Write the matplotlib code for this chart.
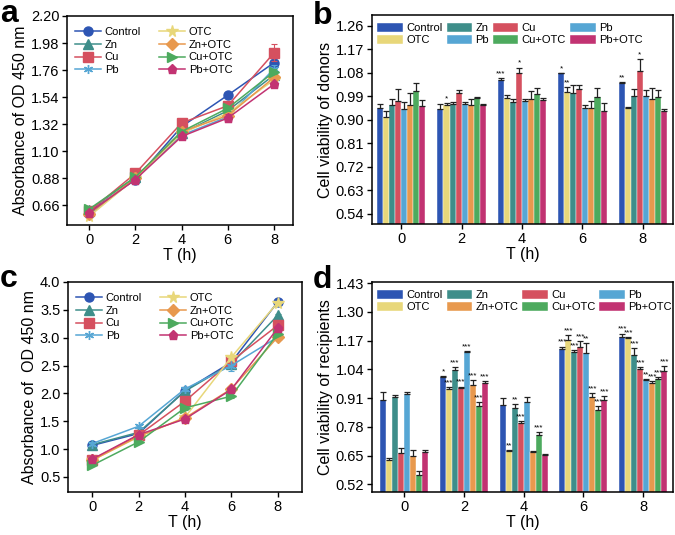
import numpy as np
import matplotlib
matplotlib.use("Agg")
import matplotlib.pyplot as plt
from matplotlib.patches import Patch

plt.rcParams['font.family'] = ['Liberation Sans', 'DejaVu Sans']
plt.rcParams['axes.linewidth'] = 1.1
plt.rcParams['xtick.major.width'] = 1.0
plt.rcParams['ytick.major.width'] = 1.0
plt.rcParams['xtick.major.size'] = 3.5
plt.rcParams['ytick.major.size'] = 3.5

hours = [0, 2, 4, 6, 8]
groups = ['Control', 'OTC', 'Zn', 'Cu', 'Pb', 'Zn+OTC', 'Cu+OTC', 'Pb+OTC']
colors = {
    'Control': '#2D55B3', 'OTC': '#E8D77A', 'Zn': '#3E8E8A', 'Cu': '#D5505F',
    'Pb': '#56A6D4', 'Zn+OTC': '#E8994E', 'Cu+OTC': '#4DAA5E', 'Pb+OTC': '#C23372',
}
markers = {
    'Control': 'o', 'Zn': '^', 'Cu': 's', 'Pb': (6, 2, 0),
    'OTC': '*', 'Zn+OTC': 'D', 'Cu+OTC': '>', 'Pb+OTC': 'p',
}
line_order = ['Control', 'Zn', 'Cu', 'Pb', 'OTC', 'Zn+OTC', 'Cu+OTC', 'Pb+OTC']

# panel a: absorbance of donors (OD 450)
a_mean = {
    'Control': [0.606, 0.87, 1.30, 1.556, 1.82],
    'Zn':      [0.62, 0.89, 1.245, 1.43, 1.72],
    'Cu':      [0.61, 0.92, 1.33, 1.47, 1.90],
    'Pb':      [0.58, 0.88, 1.23, 1.38, 1.77],
    'OTC':     [0.57, 0.88, 1.245, 1.41, 1.68],
    'Zn+OTC':  [0.59, 0.885, 1.26, 1.39, 1.70],
    'Cu+OTC':  [0.63, 0.89, 1.26, 1.45, 1.745],
    'Pb+OTC':  [0.60, 0.87, 1.22, 1.37, 1.645],
}
a_err = {
    'Control': [0.01, 0.01, 0.02, 0.01, 0.02],
    'Zn':      [0.01, 0.01, 0.01, 0.02, 0.02],
    'Cu':      [0.01, 0.01, 0.01, 0.02, 0.07],
    'Pb':      [0.01, 0.01, 0.01, 0.02, 0.03],
    'OTC':     [0.01, 0.01, 0.01, 0.02, 0.02],
    'Zn+OTC':  [0.01, 0.01, 0.01, 0.02, 0.02],
    'Cu+OTC':  [0.01, 0.01, 0.01, 0.02, 0.02],
    'Pb+OTC':  [0.01, 0.01, 0.01, 0.03, 0.02],
}

# panel c: absorbance of recipients (OD 450)
c_mean = {
    'Control': [1.066, 1.28, 2.05, 2.56, 3.64],
    'Zn':      [1.08, 1.30, 2.04, 2.53, 3.40],
    'Cu':      [0.81, 1.25, 1.86, 2.58, 3.22],
    'Pb':      [1.10, 1.41, 2.08, 2.50, 3.01],
    'OTC':     [0.80, 1.22, 1.57, 2.65, 3.63],
    'Zn+OTC':  [0.80, 1.23, 1.56, 2.08, 3.01],
    'Cu+OTC':  [0.71, 1.13, 1.74, 1.95, 3.07],
    'Pb+OTC':  [0.82, 1.26, 1.54, 2.07, 3.17],
}
c_err = {
    'Control': [0.02, 0.02, 0.03, 0.03, 0.03],
    'Zn':      [0.02, 0.02, 0.03, 0.03, 0.03],
    'Cu':      [0.02, 0.02, 0.03, 0.03, 0.03],
    'Pb':      [0.02, 0.03, 0.03, 0.10, 0.03],
    'OTC':     [0.02, 0.02, 0.03, 0.03, 0.03],
    'Zn+OTC':  [0.02, 0.02, 0.03, 0.03, 0.03],
    'Cu+OTC':  [0.02, 0.02, 0.03, 0.03, 0.03],
    'Pb+OTC':  [0.02, 0.02, 0.03, 0.03, 0.03],
}

# panel b: cell viability of donors, rows = hours, columns = groups
b_mean = [
    [0.944, 0.909, 0.955, 0.973, 0.941, 0.956, 1.011, 0.953],
    [0.940, 0.956, 0.959, 1.001, 0.959, 0.956, 0.985, 0.956],
    [1.052, 0.983, 0.969, 1.078, 0.973, 0.979, 0.999, 0.976],
    [1.078, 1.008, 1.004, 1.017, 0.947, 0.946, 0.986, 0.935],
    [1.042, 0.945, 0.991, 1.087, 0.992, 0.979, 0.988, 0.933],
]
b_err = [
    [0.017, 0.024, 0.023, 0.047, 0.026, 0.047, 0.032, 0.023],
    [0.019, 0.009, 0.010, 0.015, 0.008, 0.022, 0.004, 0.006],
    [0.009, 0.014, 0.012, 0.022, 0.008, 0.031, 0.022, 0.006],
    [0.002, 0.017, 0.030, 0.017, 0.009, 0.026, 0.035, 0.031],
    [0.003, 0.005, 0.026, 0.045, 0.024, 0.042, 0.028, 0.009],
]
b_sig = [
    ['', '', '', '', '', '', '', ''],
    ['', '*', '', '', '', '', '', ''],
    ['***', '', '', '*', '', '', '', ''],
    ['*', '**', '', '', '', '', '', ''],
    ['**', '', '', '*', '', '', '', ''],
]
# legend as printed in panel b
b_legend_labels = ['Control', 'OTC', 'Zn', 'Pb', 'Cu', 'Cu+OTC', 'Pb', 'Pb+OTC']
b_legend_groups = ['Control', 'OTC', 'Zn', 'Pb', 'Cu', 'Cu+OTC', 'Pb', 'Pb+OTC']

# panel d: cell viability of recipients
d_mean = [
    [0.900, 0.629, 0.915, 0.661, 0.927, 0.649, 0.561, 0.666],
    [1.005, 0.952, 1.037, 0.955, 1.117, 0.967, 0.873, 0.979],
    [0.878, 0.669, 0.867, 0.799, 0.893, 0.664, 0.743, 0.654],
    [1.131, 1.172, 1.117, 1.142, 1.112, 0.915, 0.855, 0.903],
    [1.187, 1.181, 1.105, 1.042, 0.990, 0.978, 0.994, 1.031],
]
d_err = [
    [0.037, 0.010, 0.007, 0.021, 0.010, 0.024, 0.018, 0.007],
    [0.003, 0.009, 0.015, 0.007, 0.005, 0.025, 0.019, 0.007],
    [0.030, 0.007, 0.015, 0.007, 0.022, 0.007, 0.015, 0.002],
    [0.012, 0.022, 0.010, 0.024, 0.045, 0.018, 0.018, 0.015],
    [0.015, 0.006, 0.031, 0.010, 0.007, 0.007, 0.010, 0.022],
]
d_sig = [
    ['', '', '', '', '', '', '', ''],
    ['*', '***', '***', '***', '***', '***', '***', '***'],
    ['', '**', '**', '***', '', '', '***', ''],
    ['***', '***', '***', '***', '**', '***', '***', '***'],
    ['***', '***', '***', '***', '**', '***', '***', '***'],
]
d_legend_groups = ['Control', 'OTC', 'Zn', 'Zn+OTC', 'Cu', 'Cu+OTC', 'Pb', 'Pb+OTC']


def line_panel(ax, mean, err, ylim, yticks, ylabel, xlim):
    for g in line_order:
        ax.errorbar(hours, mean[g], yerr=err[g], fmt='none', ecolor=colors[g],
                    capsize=2, elinewidth=0.8, capthick=0.8)
        ax.plot(hours, mean[g], color=colors[g], marker=markers[g],
                markersize=6.5 if g != 'OTC' else 8.5, linewidth=1.1,
                markeredgewidth=1.0, label=g)
    ax.set_xlim(*xlim)
    ax.set_ylim(*ylim)
    ax.set_yticks(yticks)
    ax.set_xticks(hours)
    ax.set_xlabel('T (h)', fontsize=11.5, labelpad=1)
    ax.set_ylabel(ylabel, fontsize=11.5, labelpad=2)
    ax.tick_params(labelsize=10.5, pad=2)
    ax.legend(ncol=2, loc='upper left', frameon=False, fontsize=8,
              labelspacing=0.25, handlelength=2.4, handletextpad=0.3,
              columnspacing=1.6, borderaxespad=0.3, bbox_to_anchor=(0.0, 0.985))


def bar_panel(ax, mean, err, sig, ylim, yticks, ylabel, legend_groups, legend_labels, xlim):
    mean = np.array(mean)
    err = np.array(err)
    width = 0.2
    n = len(groups)
    offsets = (np.arange(n) - (n - 1) / 2) * width
    x = np.array(hours, dtype=float)
    for j, g in enumerate(groups):
        ax.bar(x + offsets[j], mean[:, j], width, color=colors[g],
               edgecolor='white', linewidth=0.3, zorder=2)
        ax.errorbar(x + offsets[j], mean[:, j], yerr=[np.zeros(len(x)), err[:, j]],
                    fmt='none', ecolor='#222222', elinewidth=0.9, capsize=2,
                    capthick=0.9, zorder=3)
        for i in range(len(x)):
            if sig[i][j]:
                ax.text(x[i] + offsets[j], mean[i, j] + err[i, j] + 0.003, sig[i][j],
                        ha='center', va='bottom', fontsize=5.8)
    ax.set_xlim(*xlim)
    ax.set_ylim(*ylim)
    ax.set_yticks(yticks)
    ax.set_xticks(hours)
    ax.set_xlabel('T (h)', fontsize=11.5, labelpad=1)
    ax.set_ylabel(ylabel, fontsize=11.5, labelpad=2)
    ax.tick_params(labelsize=10.5, pad=2)
    handles = [Patch(facecolor=colors[g], edgecolor='white', linewidth=0.3) for g in legend_groups]
    ax.legend(handles, legend_labels, ncol=4, loc='upper left', frameon=False, fontsize=8,
              labelspacing=0.15, handlelength=2.3, handleheight=0.9, handletextpad=0.3,
              columnspacing=0.35, borderaxespad=0.1, bbox_to_anchor=(0.0, 0.99))


fig = plt.figure(figsize=(6.75, 5.35), dpi=100)

ax_a = fig.add_axes([0.0993, 0.5794, 0.335, 0.3907])
line_panel(ax_a, a_mean, a_err, (0.50, 2.20), np.arange(0.66, 2.21, 0.22),
           'Absorbance of OD 450 nm', (-0.96, 8.83))
ax_a.set_yticklabels([f'{v:.2f}' for v in np.arange(0.66, 2.21, 0.22)])

ax_b = fig.add_axes([0.551, 0.581, 0.446, 0.391])
bar_panel(ax_b, b_mean, b_err, b_sig, (0.50, 1.302), np.arange(0.54, 1.27, 0.09),
          'Cell viability of donors', b_legend_groups, b_legend_labels, (-0.97, 9.0))
ax_b.set_yticklabels([f'{v:.2f}' for v in np.arange(0.54, 1.27, 0.09)])

ax_c = fig.add_axes([0.1007, 0.0804, 0.3467, 0.3925])
line_panel(ax_c, c_mean, c_err, (0.23, 4.0), np.arange(0.5, 4.01, 0.5),
           'Absorbance of  OD 450 nm', (-1.05, 9.05))

ax_d = fig.add_axes([0.551, 0.0804, 0.446, 0.3925])
bar_panel(ax_d, d_mean, d_err, d_sig, (0.485, 1.435), np.arange(0.52, 1.44, 0.13),
          'Cell viability of recipients', d_legend_groups, d_legend_groups, (-1.08, 9.0))
ax_d.set_yticklabels([f'{v:.2f}' for v in np.arange(0.52, 1.44, 0.13)])

for label, (px, py) in zip('abcd', [(0, 22), (313, 24), (0, 287), (313, 288)]):
    fig.text(px / 675, 1 - py / 535, label, fontsize=23, fontweight='bold', va='baseline')

fig.savefig('out.png', dpi=100)
